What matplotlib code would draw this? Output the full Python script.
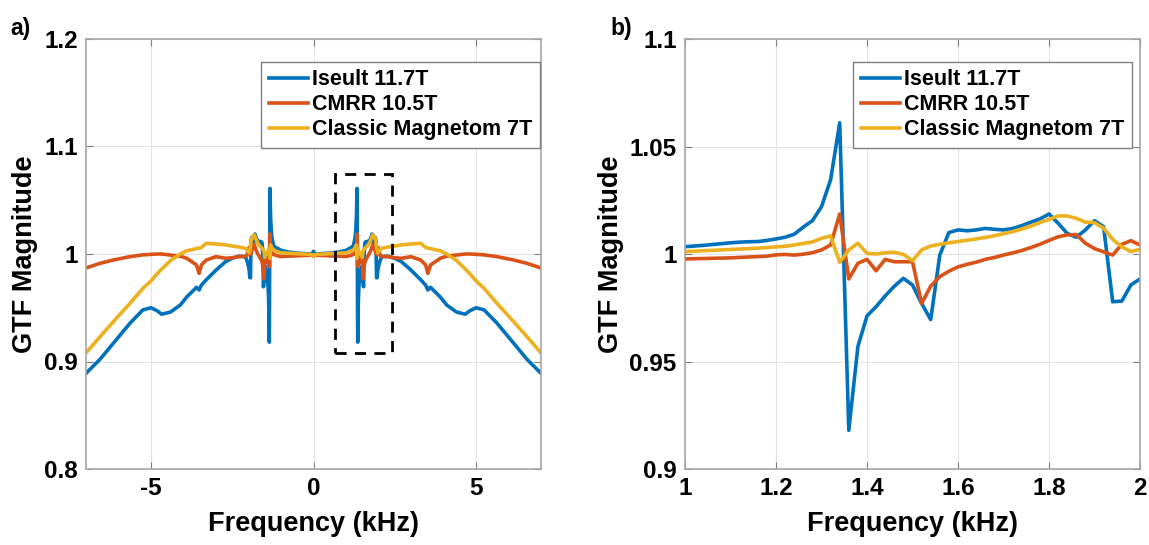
import numpy as np
import matplotlib
matplotlib.use('Agg')
import matplotlib.pyplot as plt
from matplotlib.patches import Rectangle

plt.rcParams['font.family'] = ['Liberation Sans', 'DejaVu Sans']
plt.rcParams['font.weight'] = 'bold'

labels = ['Iseult 11.7T', 'CMRR 10.5T', 'Classic Magnetom 7T']
colors = ['#0072BD', '#D95319', '#EDB120']

# zoomed band 1-2 kHz (panel b), 0.02 kHz steps
f_fine = [1.00, 1.02, 1.04, 1.06, 1.08, 1.10, 1.12, 1.14, 1.16, 1.18,
          1.20, 1.22, 1.24, 1.26, 1.28, 1.30, 1.32, 1.34, 1.36, 1.38,
          1.40, 1.42, 1.44, 1.46, 1.48, 1.50, 1.52, 1.54, 1.56, 1.58,
          1.60, 1.62, 1.64, 1.66, 1.68, 1.70, 1.72, 1.74, 1.76, 1.78,
          1.80, 1.82, 1.84, 1.86, 1.88, 1.90, 1.92, 1.94, 1.96, 1.98, 2.00]
iseult_fine = [1.0034, 1.0037, 1.0040, 1.0044, 1.0048, 1.0052, 1.0055, 1.0057, 1.0058, 1.0063,
               1.0070, 1.0078, 1.0092, 1.0125, 1.0155, 1.0220, 1.0345, 1.0610, 0.9180, 0.9570,
               0.9712, 0.9755, 0.9805, 0.9850, 0.9887, 0.9856, 0.9770, 0.9695, 0.9995, 1.0100,
               1.0112, 1.0108, 1.0112, 1.0119, 1.0115, 1.0112, 1.0119, 1.0132, 1.0148, 1.0163,
               1.0186, 1.0143, 1.0096, 1.0078, 1.0112, 1.0155, 1.0127, 0.9778, 0.9781, 0.9856, 0.9884]
cmrr_fine = [0.9977, 0.9978, 0.9979, 0.9980, 0.9981, 0.9982, 0.9984, 0.9986, 0.9988, 0.9990,
             0.9996, 0.9998, 0.9995, 0.9999, 1.0006, 1.0019, 1.0042, 1.0186, 0.9884, 0.9957,
             0.9975, 0.9922, 0.9975, 0.9964, 0.9964, 0.9964, 0.9770, 0.9850, 0.9895, 0.9920,
             0.9940, 0.9952, 0.9962, 0.9975, 0.9984, 0.9995, 1.0005, 1.0016, 1.0030, 1.0045,
             1.0063, 1.0080, 1.0089, 1.0090, 1.0050, 1.0025, 1.0010, 0.9995, 1.0045, 1.0062, 1.0042]
classic_fine = [1.0011, 1.0013, 1.0015, 1.0017, 1.0019, 1.0021, 1.0023, 1.0025, 1.0027, 1.0030,
                1.0033, 1.0036, 1.0042, 1.0049, 1.0056, 1.0073, 1.0084, 0.9961, 1.0019, 1.0050,
                1.0003, 1.0000, 1.0006, 1.0008, 0.9998, 0.9969, 1.0019, 1.0037, 1.0045, 1.0052,
                1.0058, 1.0064, 1.0070, 1.0077, 1.0085, 1.0094, 1.0104, 1.0116, 1.0130, 1.0146,
                1.0161, 1.0177, 1.0177, 1.0166, 1.0148, 1.0146, 1.0120, 1.0068, 1.0034, 1.0011, 1.0022]

# positive side outside the band, 0-1 kHz and 2-7 kHz (spectrum is symmetric)
f_low = [0.0, 0.05, 0.2, 0.5, 0.8]
iseult_low = [1.0025, 1.0000, 1.0002, 1.0008, 1.0020]
cmrr_low = [0.9990, 0.9989, 0.9987, 0.9983, 0.9979]
classic_low = [0.9975, 0.9995, 0.9998, 1.0003, 1.0008]

f_high = [2.05, 2.1, 2.3, 2.5, 2.7, 3.0, 3.3, 3.45, 3.52, 3.6, 3.9, 4.1, 4.4, 4.67, 4.8,
          5.0, 5.25, 5.65, 6.16, 6.57, 7.0]
iseult_high = [0.9940, 0.9975, 0.9980, 0.9960, 0.9930, 0.9850, 0.9760, 0.9710, 0.9665, 0.9690,
               0.9600, 0.9525, 0.9460, 0.9440, 0.9470, 0.9500, 0.9480, 0.9355, 0.9170, 0.9020, 0.8890]
cmrr_high = [0.9985, 0.9978, 0.9975, 0.9965, 0.9960, 0.9975, 0.9944, 0.9898, 0.9820, 0.9898,
             0.9960, 0.9980, 0.9990, 1.0000, 1.0000, 0.9997, 0.9992, 0.9975, 0.9944, 0.9913, 0.9870]
classic_high = [1.0037, 1.0053, 1.0065, 1.0074, 1.0085, 1.0093, 1.0099, 1.0060, 1.0055, 1.0050,
                1.0030, 1.0000, 0.9940, 0.9860, 0.9820, 0.9750, 0.9680, 0.9540, 0.9370, 0.9230, 0.9080]


def full_spectrum(low, fine, high):
    pos = np.array(low + fine + high)
    return np.concatenate([pos[:0:-1], pos])


f_pos = np.array(f_low + f_fine + f_high)
f_all = np.concatenate([-f_pos[:0:-1], f_pos])
full = [full_spectrum(iseult_low, iseult_fine, iseult_high),
        full_spectrum(cmrr_low, cmrr_fine, cmrr_high),
        full_spectrum(classic_low, classic_fine, classic_high)]
zoom = [iseult_fine, cmrr_fine, classic_fine]

fig = plt.figure(figsize=(11.49, 5.45), dpi=100)
ax1 = fig.add_axes([86 / 1149, 1 - 469 / 545, 455 / 1149, 430 / 545])
ax2 = fig.add_axes([685 / 1149, 1 - 469 / 545, 455 / 1149, 430 / 545])

for y, c, lab in zip(full, colors, labels):
    ax1.plot(f_all, y, color=c, lw=2.6, label=lab)
for y, c, lab in zip(zoom, colors, labels):
    ax2.plot(f_fine, y, color=c, lw=2.6, label=lab)

# dashed box marking the zoomed region
ax1.add_patch(Rectangle((0.66, 0.908), 1.74, 0.1664, fill=False, ec='black',
                        ls=(0, (4, 3)), lw=2, zorder=5))

ax1.set_xlim(-7, 7)
ax1.set_ylim(0.8, 1.2)
ax1.set_xticks([-5, 0, 5])
ax1.set_xticklabels(['-5', '0', '5'])
ax1.set_yticks([0.8, 0.9, 1.0, 1.1, 1.2])
ax1.set_yticklabels(['0.8', '0.9', '1', '1.1', '1.2'])

ax2.set_xlim(1, 2)
ax2.set_ylim(0.9, 1.1)
ax2.set_xticks([1, 1.2, 1.4, 1.6, 1.8, 2])
ax2.set_xticklabels(['1', '1.2', '1.4', '1.6', '1.8', '2'])
ax2.set_yticks([0.9, 0.95, 1.0, 1.05, 1.1])
ax2.set_yticklabels(['0.9', '0.95', '1', '1.05', '1.1'])

for ax in (ax1, ax2):
    ax.grid(True, color='#e3e3e3', lw=0.8)
    ax.set_axisbelow(True)
    for s in ax.spines.values():
        s.set_color('#a6a6a6')
        s.set_linewidth(1.2)
    ax.tick_params(direction='in', top=True, right=True, length=5, color='#7f7f7f',
                   labelsize=17.5, pad=6)
    for t in ax.get_xticklabels() + ax.get_yticklabels():
        t.set_fontweight('bold')
    ax.set_xlabel('Frequency (kHz)', fontsize=19.5, fontweight='bold', labelpad=8)
    ax.set_ylabel('GTF Magnitude', fontsize=19.5, fontweight='bold', labelpad=4)

leg_kw = dict(loc='upper right', prop={'weight': 'bold', 'size': 15.5},
              fancybox=False, framealpha=1, edgecolor='#7f7f7f', handlelength=1.8,
              borderpad=0.35, labelspacing=0.18, handletextpad=0.2, borderaxespad=0)
l1 = ax1.legend(bbox_to_anchor=(0.997, 0.947), **leg_kw)
l2 = ax2.legend(bbox_to_anchor=(0.982, 0.947), **leg_kw)
for l in (l1, l2):
    l.get_frame().set_linewidth(1.0)

fig.text(10 / 1149, 1 - 29 / 545, 'a)', fontsize=16.5, fontweight='bold', va='center')
fig.text(610 / 1149, 1 - 29 / 545, 'b)', fontsize=16.5, fontweight='bold', va='center')

plt.savefig('out.png', dpi=100)
